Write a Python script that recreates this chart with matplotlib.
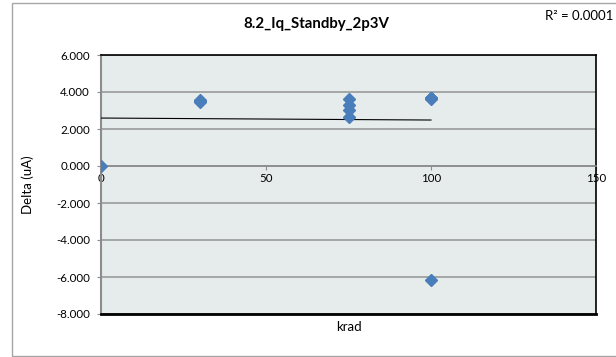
import numpy as np
import matplotlib
matplotlib.use("Agg")
import matplotlib.pyplot as plt
from matplotlib.patches import Rectangle

plt.rcParams['font.family'] = ['Lato', 'DejaVu Sans']

# data (several points overlap)
krad = [0, 30, 30, 30, 75, 75, 75, 75, 100, 100, 100, 100, 100, 100]
delta = [-0.02, 3.45, 3.50, 3.55, 3.60, 3.30, 3.05, 2.65,
         3.62, 3.65, 3.66, 3.68, 3.70, -6.16]
title = "8.2_Iq_Standby_2p3V"
r2_label = "R² = 0.0001"

fig = plt.figure(figsize=(6.16, 3.57), dpi=100)
ax = fig.add_axes([101/616, 1-314/357, 495/616, 259/357])
ax.set_facecolor('#E6ECEC')

# linear trendline
coef = np.polyfit(krad, delta, 1)
xt = np.array([min(krad), max(krad)])
ax.plot(xt, np.polyval(coef, xt), color='black', lw=0.8, zorder=3)

ax.plot(krad, delta, 'D', color='#4A7EBB', ms=6.5, mec='#4A7EBB', zorder=4,
        linestyle='None')

ax.set_xlim(0, 150)
ax.set_ylim(-8, 6)
ax.set_xticks([0, 50, 100, 150])
ax.set_yticks(np.arange(-8, 6.1, 2))
ax.set_yticklabels([f"{v:.3f}" for v in np.arange(-8, 6.1, 2)])
ax.grid(axis='y', color='#9A9A9A', lw=1.2)
ax.set_axisbelow(True)

ax.spines['bottom'].set_position(('data', 0))
ax.spines['bottom'].set_color('#8C8C8C')
ax.spines['left'].set_color('#8C8C8C')
ax.spines['left'].set_linewidth(1.5)
ax.spines['bottom'].set_linewidth(1.2)
ax.spines['top'].set_color('black')
ax.spines['right'].set_color('black')
ax.spines['top'].set_linewidth(1.2)
ax.spines['right'].set_linewidth(1.2)
ax.axhline(-8, color='black', lw=2.0, zorder=5, clip_on=False)

ax.tick_params(axis='both', direction='out', length=3, color='#8C8C8C',
               labelsize=8.3)
ax.tick_params(axis='y', pad=5)
ax.tick_params(axis='x', pad=2)

ax.set_ylabel("Delta (uA)", fontsize=9.5)
ax.yaxis.set_label_coords(-0.135, 0.5)
fig.text(348.5/616, 1-327/357, "krad", fontsize=9.5, ha='center', va='center')
fig.text(316/616, 1-24/357, title, fontsize=10.8, fontweight='bold',
         ha='center', va='center')
fig.text(545/616, 1-16/357, r2_label, fontsize=9.5, ha='left', va='center')

# outer chart frame
fig.patches.append(Rectangle((12/616, 1-356/357), 700/616, 353/357,
                             transform=fig.transFigure, fill=False,
                             ec='#A6A6A6', lw=1.0))

fig.savefig("out.png", dpi=100)
